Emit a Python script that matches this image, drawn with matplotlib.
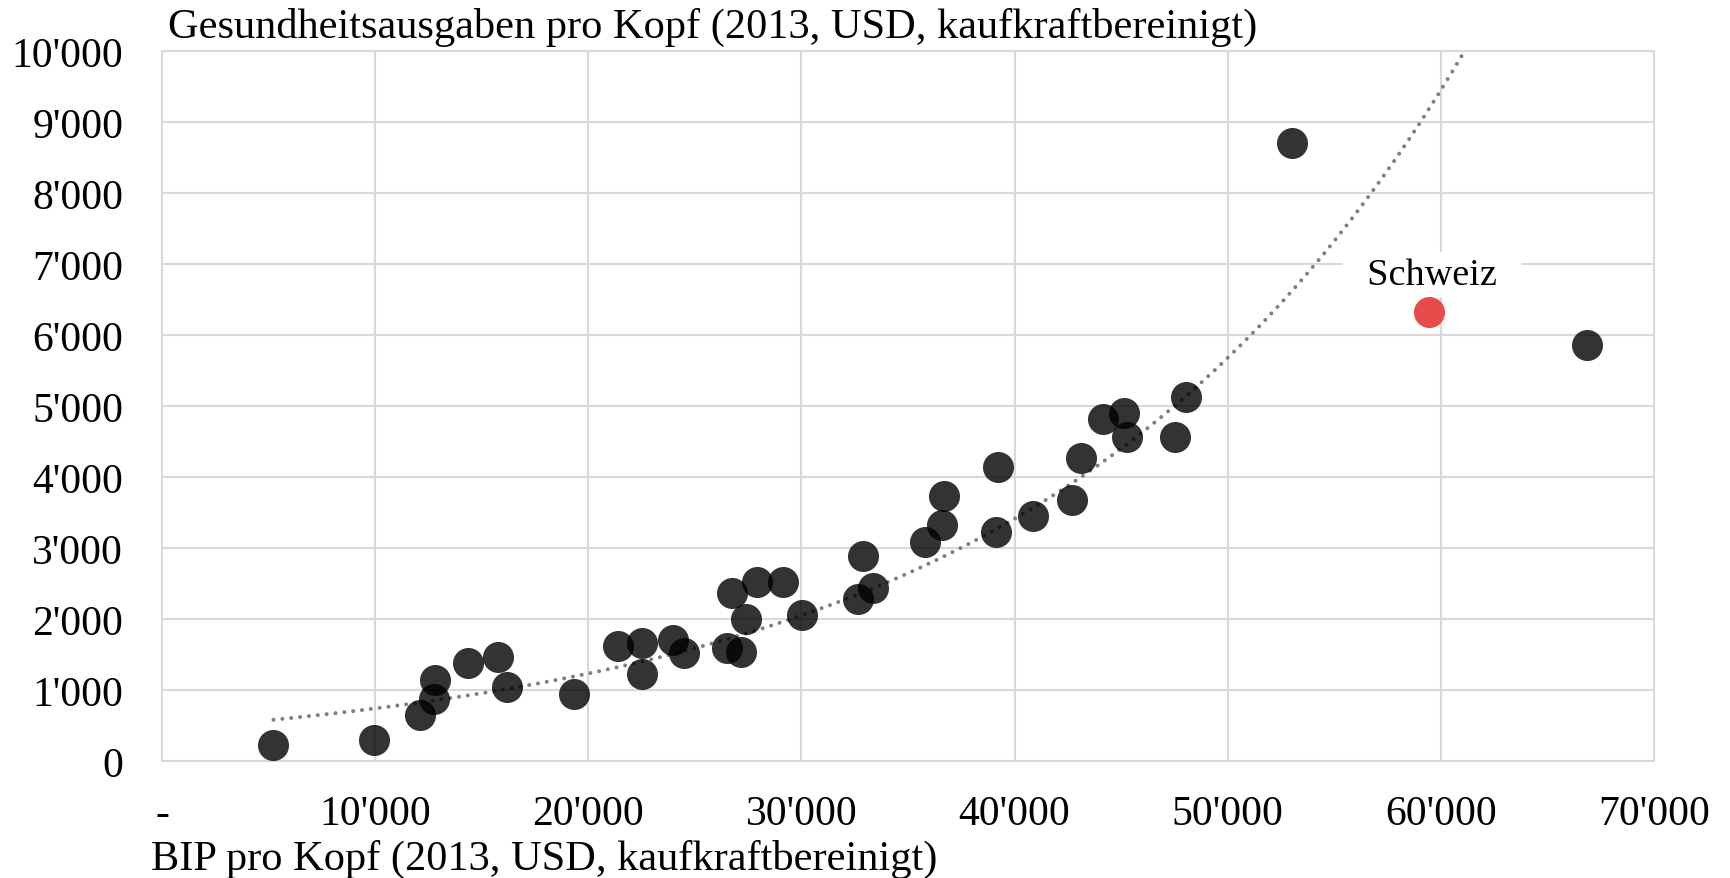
import numpy as np
import matplotlib
matplotlib.use("Agg")
import matplotlib.pyplot as plt
from matplotlib.ticker import FuncFormatter, MultipleLocator

# BIP pro Kopf vs. Gesundheitsausgaben pro Kopf (2013, USD, PPP)
gdp = [5230, 9950, 12120, 12750, 12800, 14350, 15750, 16170, 19330, 21400,
       22540, 22540, 23990, 24510, 26530, 26740, 27150, 27410, 27930, 29120,
       30050, 32640, 32900, 33370, 35800, 36580, 36680, 39120, 39220, 40880,
       42690, 43110, 44140, 45130, 45280, 47510, 48030, 53000, 66840]
health = [220, 295, 653, 871, 1135, 1384, 1462, 1042, 949, 1617,
          1664, 1229, 1711, 1524, 1586, 2364, 1540, 2006, 2519, 2519,
          2053, 2286, 2893, 2442, 3079, 3328, 3733, 3219, 4137, 3453,
          3670, 4261, 4821, 4899, 4557, 4557, 5132, 8709, 5863]
ch_gdp = 59430
ch_health = 6330

plt.rcParams["font.family"] = ["Liberation Serif", "DejaVu Serif"]

fig = plt.figure(figsize=(17.31, 8.79), dpi=100)
ax = fig.add_axes([0.0936, 0.1331, 0.8619, 0.8077])

# exponential trendline over all countries (least squares on ln y)
x = np.array(gdp + [ch_gdp], dtype=float)
y = np.array(health + [ch_health], dtype=float)
b, lna = np.polyfit(x, np.log(y), 1)
xt = np.linspace(x.min(), x.max(), 400)
ax.plot(xt, np.exp(lna) * np.exp(b * xt), color="#808080", lw=2.9,
        linestyle=(0, (0.01, 2.2)), dash_capstyle="round", zorder=2)

ax.scatter(gdp, health, s=500, color="black", alpha=0.8, linewidths=0, zorder=3)
ax.scatter([ch_gdp], [ch_health], s=500, color="#e84c4a", linewidths=0, zorder=3)
ax.text(ch_gdp + 155, ch_health + 390, "  Schweiz  ", fontsize=27.5, ha="center", va="baseline",
        bbox=dict(facecolor="white", edgecolor="none", pad=3.6), zorder=4)

ax.set_xlim(0, 70000)
ax.set_ylim(0, 10000)
ax.xaxis.set_major_locator(MultipleLocator(10000))
ax.yaxis.set_major_locator(MultipleLocator(1000))


def fmt(v, pos):
    if v == 0:
        return "-"
    return f"{int(v):,}".replace(",", "'")


ax.xaxis.set_major_formatter(FuncFormatter(fmt))
ax.yaxis.set_major_formatter(FuncFormatter(lambda v, p: f"{int(v):,}".replace(",", "'")))
ax.tick_params(axis="both", length=0, labelsize=30)
ax.tick_params(axis="x", pad=24)
ax.tick_params(axis="y", pad=28)

ax.grid(True, color="#d9d9d9", lw=1.5, zorder=0)
ax.set_axisbelow(True)
for s in ax.spines.values():
    s.set_color("#d9d9d9")
    s.set_linewidth(1.5)

fig.text(168 / 1731, 1 - 38 / 879, "Gesundheitsausgaben pro Kopf (2013, USD, kaufkraftbereinigt)",
         fontsize=30.5, ha="left", va="baseline")
fig.text(151 / 1731, 1 - 870 / 879, "BIP pro Kopf (2013, USD, kaufkraftbereinigt)",
         fontsize=30.5, ha="left", va="baseline")

fig.savefig("out.png", dpi=100)
